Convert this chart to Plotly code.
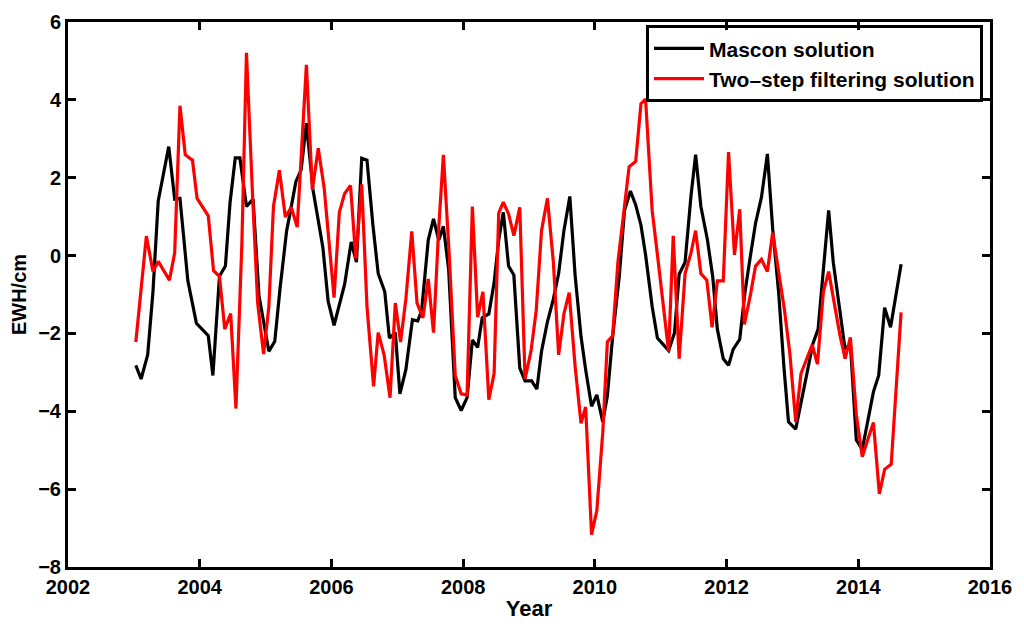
import plotly.graph_objects as go

# Mascon solution (black)
mascon_year = [2003.03, 2003.11, 2003.21, 2003.29, 2003.37, 2003.53, 2003.62, 2003.70, 2003.82, 2003.89,
               2003.95, 2004.13, 2004.20, 2004.30, 2004.39, 2004.46, 2004.54, 2004.61, 2004.71, 2004.81,
               2004.90, 2005.05, 2005.14, 2005.22, 2005.32, 2005.38, 2005.46, 2005.54, 2005.62, 2005.72,
               2005.87, 2005.95, 2006.04, 2006.20, 2006.30, 2006.38, 2006.46, 2006.54, 2006.63, 2006.71,
               2006.81, 2006.88, 2006.97, 2007.04, 2007.13, 2007.23, 2007.31, 2007.37, 2007.47, 2007.55,
               2007.63, 2007.70, 2007.78, 2007.88, 2007.97, 2008.06, 2008.14, 2008.22, 2008.29, 2008.39,
               2008.47, 2008.54, 2008.61, 2008.69, 2008.77, 2008.86, 2008.94, 2009.04, 2009.12, 2009.19,
               2009.28, 2009.37, 2009.45, 2009.53, 2009.62, 2009.70, 2009.79, 2009.86, 2009.95, 2010.03,
               2010.12, 2010.19, 2010.27, 2010.37, 2010.45, 2010.54, 2010.62, 2010.70, 2010.77, 2010.87,
               2010.95, 2011.03, 2011.12, 2011.21, 2011.28, 2011.37, 2011.46, 2011.53, 2011.61, 2011.71,
               2011.79, 2011.86, 2011.95, 2012.03, 2012.10, 2012.20, 2012.28, 2012.36, 2012.44, 2012.53,
               2012.62, 2012.70, 2012.79, 2012.87, 2012.94, 2013.05, 2013.13, 2013.22, 2013.31, 2013.39,
               2013.46, 2013.55, 2013.62, 2013.72, 2013.80, 2013.88, 2013.97, 2014.06, 2014.15, 2014.23,
               2014.31, 2014.40, 2014.49, 2014.58, 2014.65]
mascon_ewh = [-2.82, -3.17, -2.55, -0.93, 1.40, 2.80, 1.45, 1.47, -0.65, -1.22,
              -1.74, -2.06, -3.08, -0.53, -0.27, 1.35, 2.51, 2.51, 1.26, 1.45,
              -1.03, -2.46, -2.20, -0.84, 0.64, 1.16, 1.90, 2.20, 3.40, 1.69,
              0.21, -1.17, -1.79, -0.74, 0.35, -0.17, 2.50, 2.45, 0.78, -0.46,
              -0.93, -2.12, -1.98, -3.55, -2.93, -1.65, -1.68, -1.41, 0.40, 0.94,
              0.40, 0.75, -0.36, -3.65, -3.98, -3.65, -2.17, -2.36, -1.60, -1.50,
              -0.70, 0.40, 1.11, -0.27, -0.50, -2.89, -3.22, -3.22, -3.43, -2.46,
              -1.70, -1.12, -0.46, 0.64, 1.52, -0.50, -2.08, -2.93, -3.87, -3.58,
              -4.27, -3.60, -2.08, -0.55, 1.16, 1.66, 1.30, 0.78, 0.02, -1.31,
              -2.12, -2.27, -2.44, -1.98, -0.48, -0.17, 1.54, 2.59, 1.26, 0.40,
              -0.55, -1.89, -2.65, -2.82, -2.41, -2.15, -0.93, -0.03, 0.83, 1.50,
              2.61, 0.69, -0.93, -2.84, -4.27, -4.46, -3.74, -3.03, -2.27, -1.89,
              -0.55, 1.16, -0.17, -1.46, -2.41, -2.27, -4.74, -4.98, -4.17, -3.50,
              -3.08, -1.34, -1.84, -0.93, -0.22]

# Two-step filtering solution (red)
twostep_year = [2003.03, 2003.19, 2003.29, 2003.37, 2003.54, 2003.62, 2003.70, 2003.78, 2003.89, 2003.96,
                2004.13, 2004.21, 2004.30, 2004.38, 2004.47, 2004.55, 2004.64, 2004.71, 2004.80, 2004.88,
                2004.97, 2005.05, 2005.12, 2005.21, 2005.30, 2005.39, 2005.48, 2005.54, 2005.62, 2005.71,
                2005.80, 2005.89, 2006.04, 2006.12, 2006.20, 2006.29, 2006.37, 2006.46, 2006.54, 2006.64,
                2006.71, 2006.80, 2006.89, 2006.97, 2007.05, 2007.13, 2007.22, 2007.30, 2007.39, 2007.47,
                2007.55, 2007.63, 2007.70, 2007.79, 2007.88, 2007.97, 2008.06, 2008.14, 2008.22, 2008.30,
                2008.39, 2008.47, 2008.54, 2008.61, 2008.69, 2008.77, 2008.86, 2008.94, 2009.03, 2009.11,
                2009.19, 2009.28, 2009.37, 2009.45, 2009.53, 2009.61, 2009.70, 2009.79, 2009.86, 2009.95,
                2010.03, 2010.12, 2010.19, 2010.27, 2010.35, 2010.45, 2010.52, 2010.62, 2010.70, 2010.77,
                2010.87, 2010.95, 2011.03, 2011.12, 2011.19, 2011.28, 2011.37, 2011.46, 2011.53, 2011.61,
                2011.70, 2011.78, 2011.86, 2011.95, 2012.03, 2012.12, 2012.20, 2012.27, 2012.36, 2012.44,
                2012.53, 2012.62, 2012.70, 2012.79, 2012.88, 2012.96, 2013.05, 2013.13, 2013.22, 2013.30,
                2013.38, 2013.47, 2013.55, 2013.63, 2013.72, 2013.80, 2013.88, 2013.97, 2014.06, 2014.15,
                2014.23, 2014.32, 2014.40, 2014.50, 2014.65]
twostep_ewh = [-2.22, 0.50, -0.41, -0.15, -0.63, 0.07, 3.85, 2.59, 2.45, 1.47,
               1.02, -0.39, -0.53, -1.89, -1.49, -3.93, 0.30, 5.21, 1.64, -1.22,
               -2.53, -1.31, 1.26, 2.19, 0.99, 1.24, 0.73, 2.50, 4.90, 1.69,
               2.76, 1.73, -1.08, 1.11, 1.59, 1.80, -0.08, 1.83, -1.31, -3.36,
               -1.98, -2.55, -3.65, -1.22, -2.22, -1.12, 0.62, -1.22, -1.60, -0.60,
               -1.98, 0.73, 2.59, -0.03, -3.08, -3.55, -3.58, 1.26, -1.58, -0.93,
               -3.70, -3.03, 1.09, 1.37, 1.07, 0.51, 1.24, -3.17, -2.46, -1.41,
               0.64, 1.47, -0.17, -2.55, -1.50, -0.95, -2.84, -4.31, -3.89, -7.17,
               -6.55, -4.55, -2.22, -2.06, -0.17, 1.26, 2.28, 2.42, 3.90, 4.02,
               1.16, 0.02, -1.22, -2.46, 0.51, -2.65, -0.46, 0.07, 0.64, -0.46,
               -0.63, -1.84, -0.65, -0.65, 2.66, 0.02, 1.19, -1.77, -1.03, -0.27,
               -0.10, -0.41, 0.59, -0.41, -1.41, -2.50, -4.27, -3.03, -2.65, -2.29,
               -2.79, -0.93, -0.41, -1.22, -2.03, -2.65, -2.10, -4.08, -5.17, -4.70,
               -4.29, -6.12, -5.49, -5.36, -1.46]

x_ticks = [2002, 2004, 2006, 2008, 2010, 2012, 2014, 2016]
y_ticks = [-8, -6, -4, -2, 0, 2, 4, 6]

font_family = "Liberation Sans, Arial, sans-serif"

fig = go.Figure()
fig.add_trace(go.Scatter(x=mascon_year, y=mascon_ewh, mode="lines", name="Mascon solution",
                         line=dict(color="black", width=3.2)))
fig.add_trace(go.Scatter(x=twostep_year, y=twostep_ewh, mode="lines", name="Two\u2013step filtering solution",
                         line=dict(color="#ff0000", width=3.2)))

axis_common = dict(showline=True, linecolor="black", linewidth=3, mirror="allticks",
                   ticks="inside", ticklen=8, tickwidth=3, tickcolor="black",
                   showgrid=False, zeroline=False, automargin=False,
                   tickfont=dict(family=font_family, size=20, color="black", weight="bold"))

fig.update_xaxes(range=[2002, 2016], tickvals=x_ticks, ticktext=[str(t) for t in x_ticks],
                 title=dict(text="Year", font=dict(family=font_family, size=22, color="black", weight="bold"),
                            standoff=4),
                 **axis_common)
fig.update_yaxes(range=[-8, 6], tickvals=y_ticks,
                 title=dict(text="EWH/cm", font=dict(family=font_family, size=20, color="black", weight="bold"),
                            standoff=8),
                 **axis_common)

# The page body has an 8px margin, so the figure is offset by 8px in both directions
fig.update_layout(
    width=1016, height=619,
    margin=dict(l=60, r=34, t=14, b=60),
    plot_bgcolor="white", paper_bgcolor="white",
    font=dict(family=font_family, color="black"),
    legend=dict(x=0.9924, y=0.994, xanchor="right", yanchor="top",
                bgcolor="rgba(255,255,255,0)", bordercolor="black", borderwidth=3,
                itemwidth=50,
                font=dict(family=font_family, size=21, color="black", weight="bold"),
                tracegroupgap=0),
    showlegend=True,
)

fig.write_html("out.html")
